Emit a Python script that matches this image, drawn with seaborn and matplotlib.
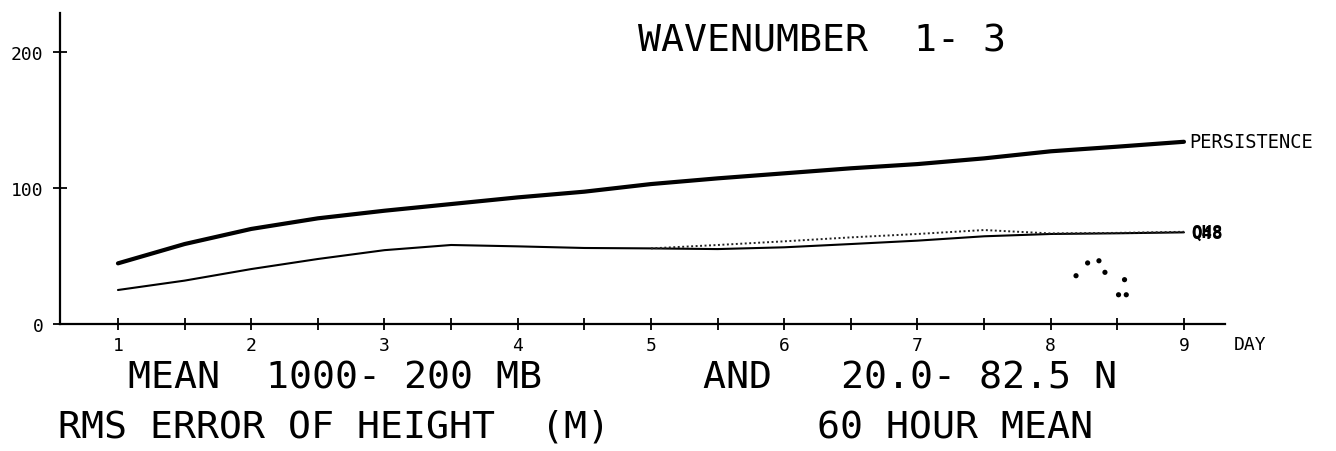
import matplotlib
matplotlib.use("Agg")
import matplotlib.pyplot as plt
import numpy as np
import pandas as pd
import seaborn as sns

# RMS error of height (m), wavenumbers 1-3, by forecast day
days = [1.0, 1.5, 2.0, 2.5, 3.0, 3.5, 4.0, 4.5, 5.0, 5.5, 6.0, 6.5, 7.0, 7.5, 8.0, 8.5, 9.0]
persistence = [44.6, 58.8, 69.9, 77.7, 83.3, 88.2, 93.1, 97.3, 102.9, 107.1, 110.8,
               114.5, 117.6, 121.8, 127.0, 130.4, 134.0]
model_solid = [25.0, 31.9, 40.4, 47.8, 54.3, 58.1, 57.1, 55.9, 55.6, 55.1, 56.4,
               58.8, 61.3, 64.5, 66.2, 66.7, 67.4]

days_dotted = [5.0, 5.5, 6.0, 6.5, 7.0, 7.5, 8.0, 8.5, 9.0]
model_dotted = [55.6, 58.1, 60.8, 63.7, 66.2, 69.1, 66.6, 67.0, 67.8]

# scattered individual points near day 8.5
dot_days = [8.19, 8.277, 8.362, 8.407, 8.554, 8.509, 8.567]
dot_vals = [35.5, 44.9, 46.5, 38.0, 32.6, 21.5, 21.5]

x_major = [1, 2, 3, 4, 5, 6, 7, 8, 9]
x_minor = [1.5, 2.5, 3.5, 4.5, 5.5, 6.5, 7.5, 8.5]
y_ticks = [0, 100, 200]

line_labels = ["PERSISTENCE", "Q48", "OH8"]

title_text = "WAVENUMBER  1- 3"
bottom_line1 = "MEAN  1000- 200 MB       AND   20.0- 82.5 N"
bottom_line2 = "RMS ERROR OF HEIGHT  (M)         60 HOUR MEAN"

sns.set_style("ticks")
mono = ["DejaVu Sans Mono"]
plt.rcParams["font.family"] = mono
plt.rcParams["text.color"] = "black"
plt.rcParams["xtick.color"] = "black"
plt.rcParams["ytick.color"] = "black"

W, H = 1336, 452
fig = plt.figure(figsize=(W / 100, H / 100), dpi=100)
ax = fig.add_axes([60 / W, 1 - 325 / H, (1225 - 60) / W, (325 - 14) / H])

df_p = pd.DataFrame({"day": days, "rms": persistence})
df_s = pd.DataFrame({"day": days, "rms": model_solid})
df_d = pd.DataFrame({"day": days_dotted, "rms": model_dotted})
df_pts = pd.DataFrame({"day": dot_days, "rms": dot_vals})

sns.lineplot(data=df_p, x="day", y="rms", ax=ax, color="black", linewidth=3.0,
             solid_capstyle="round")
sns.lineplot(data=df_s, x="day", y="rms", ax=ax, color="black", linewidth=1.5)
sns.lineplot(data=df_d, x="day", y="rms", ax=ax, color="#222222", linewidth=1.4,
             linestyle=(0, (1, 1.3)))
sns.scatterplot(data=df_pts, x="day", y="rms", ax=ax, color="black", s=14,
                edgecolor="none")

ax.set_xlim(0.565, 9.308)
ax.set_ylim(0, 228.7)
ax.set_xlabel("")
ax.set_ylabel("")

ax.set_xticks(x_major)
ax.set_xticks(x_minor, minor=True)
ax.set_yticks(y_ticks)
ax.set_xticklabels([str(v) for v in x_major], fontsize=13, family=mono)
ax.set_yticklabels([str(v) for v in y_ticks], fontsize=13, family=mono)
ax.tick_params(axis="x", which="both", direction="inout", length=9, width=1.3,
               pad=4.5, colors="black")
ax.tick_params(axis="y", which="major", direction="inout", length=10, width=1.3,
               pad=7, colors="black")

for side in ("top", "right"):
    ax.spines[side].set_visible(False)
for side in ("left", "bottom"):
    ax.spines[side].set_linewidth(1.6)
    ax.spines[side].set_color("black")

# line-end labels
ax.annotate(line_labels[0], xy=(days[-1], persistence[-1]), xytext=(4, 0),
            textcoords="offset points", ha="left", va="center", fontsize=13.5,
            family=mono, color="black", annotation_clip=False)
ax.annotate(line_labels[1], xy=(days[-1], model_solid[-1]), xytext=(5, 0),
            textcoords="offset points", ha="left", va="center", fontsize=12.5,
            family=mono, fontweight="bold", color="black", annotation_clip=False)
ax.annotate(line_labels[2], xy=(days_dotted[-1], model_dotted[-1]), xytext=(5, 0),
            textcoords="offset points", ha="left", va="center", fontsize=12.5,
            family=mono, fontweight="bold", color="black", annotation_clip=False)

# axis unit label
fig.text(1234 / W, 1 - 345 / H, "DAY", ha="left", va="center", fontsize=13,
         family=mono, color="black")

big = 27.5
fig.text(638 / W, 1 - 42 / H, title_text, ha="left", va="center", fontsize=big,
         family=mono, color="black")
fig.text(128 / W, 1 - 379 / H, bottom_line1, ha="left", va="center", fontsize=big,
         family=mono, color="black")
fig.text(58 / W, 1 - 428 / H, bottom_line2, ha="left", va="center", fontsize=big,
         family=mono, color="black")

fig.savefig("out.png", dpi=100, facecolor="white")
